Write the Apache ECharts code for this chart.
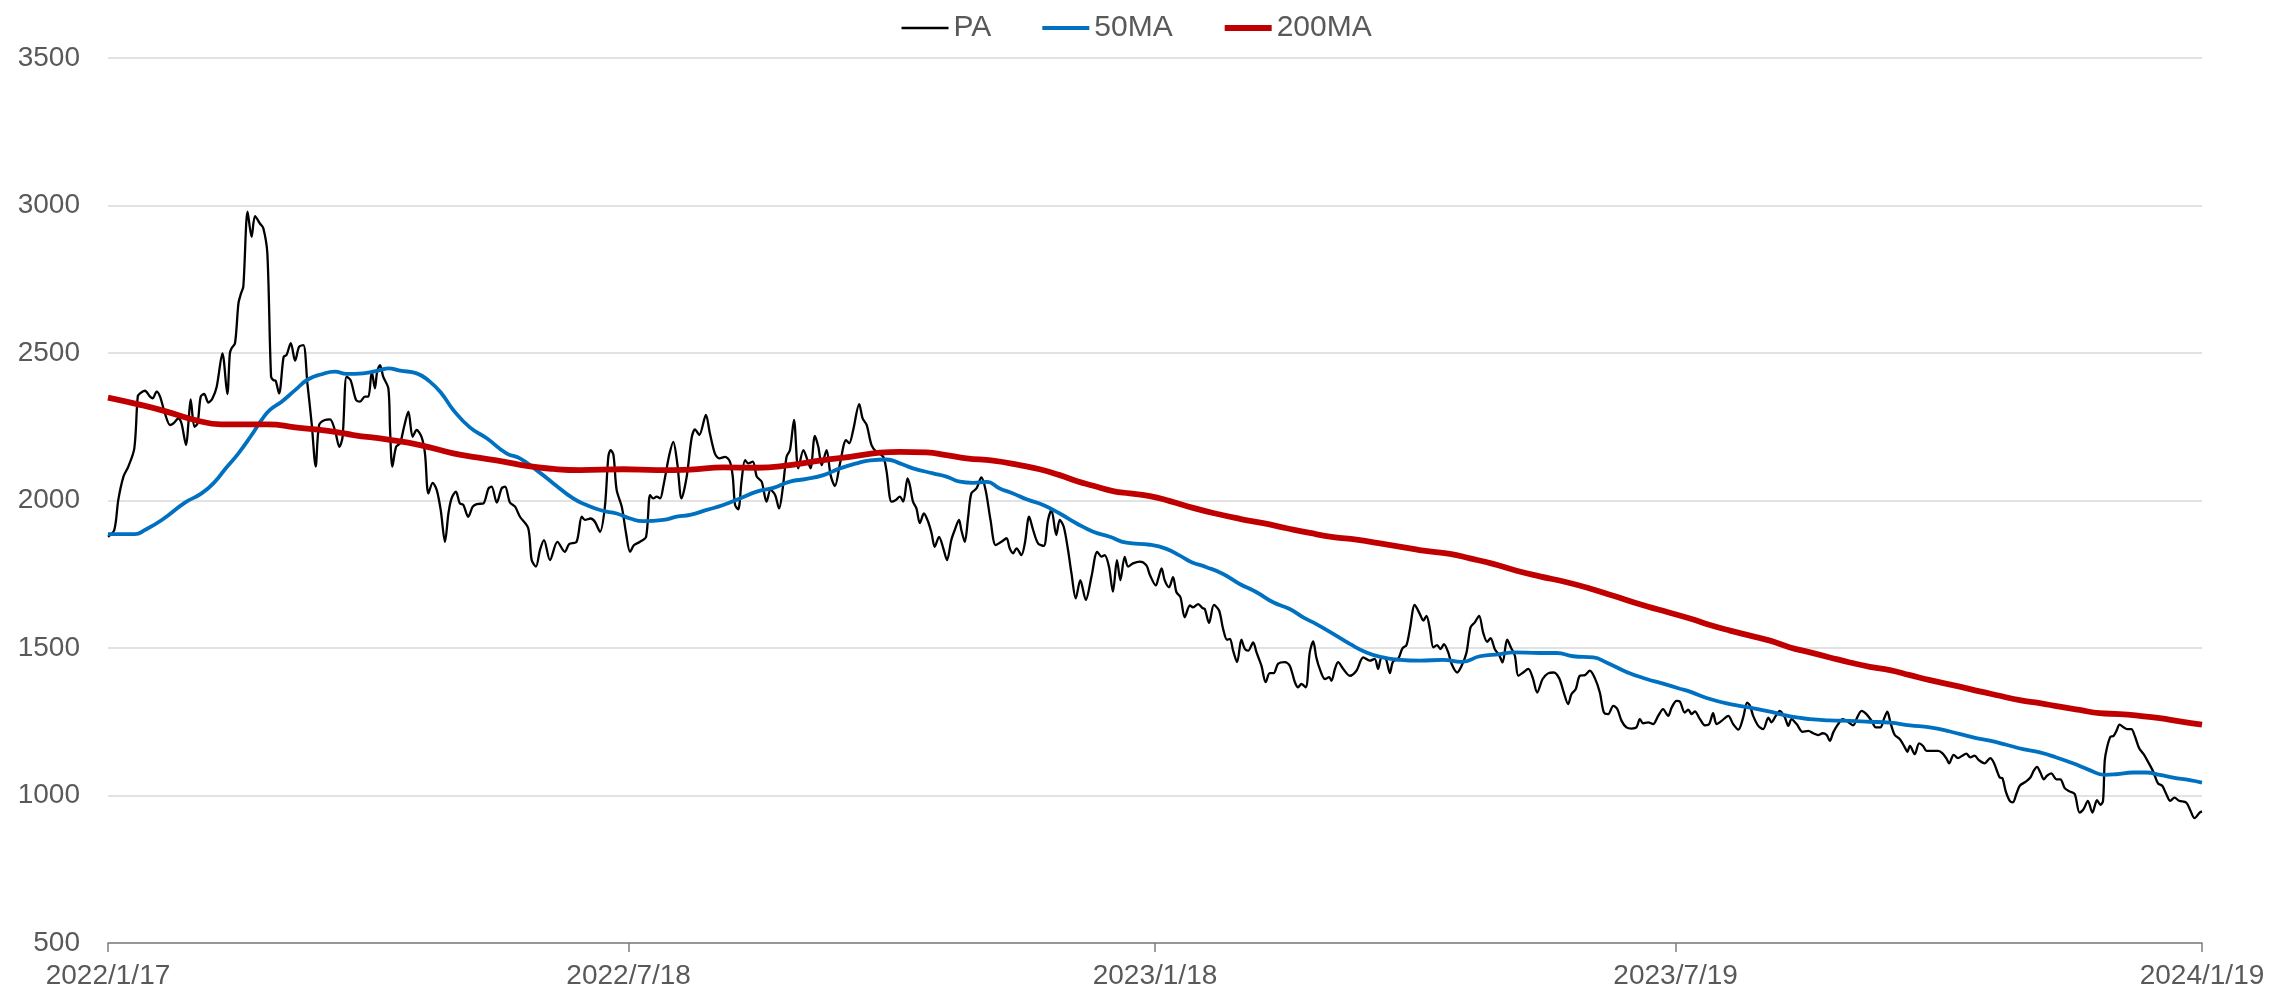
<!DOCTYPE html>
<html>
<head>
<meta charset="UTF-8">
<title>PA 50MA 200MA</title>
<script src="https://cdn.jsdelivr.net/npm/echarts@6.0.0/dist/echarts.min.js"></script>
<style>
    html, body { margin: 0; padding: 0; background: #fff; }
    #chart { width: 2272px; height: 995px; }
</style>
</head>
<body>
<div id="chart"></div>
<script>
    // x positions are days counted from 2022/1/17
    const tickLabels = ['2022/1/17', '2022/7/18', '2023/1/18', '2023/7/19', '2024/1/19'];

    const paDay = [
        0, 2.2, 3.6, 5.4, 7.1, 9.2, 10.4, 11.2, 12.9, 14.7,
        15.6, 17.0, 18.2, 19.9, 21.7, 22.8, 24.6, 25.7, 27.3, 28.1,
        28.9, 30.2, 31.3, 32.4, 33.6, 35.1, 36.5, 38.0, 40.0, 41.7,
        42.6, 43.2, 44.4, 45.6, 46.5, 47.3, 48.8, 50.2, 51.4, 53.1,
        54.3, 55.7, 57.0, 57.8, 58.6, 59.8, 61.4, 62.4, 63.9, 65.4,
        66.8, 68.3, 69.7, 71.2, 72.6, 73.8, 75.8, 77.6, 79.3, 80.9,
        82.0, 83.4, 84.8, 86.7, 88.1, 89.8, 91.0, 92.2, 93.3, 94.1,
        95.1, 96.2, 98.0, 98.6, 99.4, 100.7, 102.1, 103.5, 105.0, 106.5,
        107.9, 109.6, 110.8, 112.0, 113.5, 114.9, 116.3, 117.8, 119.0, 120.1,
        121.6, 123.0, 124.2, 125.9, 127.5, 128.9, 131.2, 133.0, 134.1, 135.9,
        137.6, 138.8, 140.5, 142.3, 144.0, 146.9, 148.1, 149.6, 151.0, 152.4,
        154.5, 157.1, 159.7, 161.2, 163.8, 165.6, 166.7, 168.7, 170.2, 172.0,
        173.7, 174.9, 175.7, 176.7, 177.8, 179.6, 181.1, 182.5, 183.9, 186.0,
        188.1, 189.5, 190.6, 191.8, 193.0, 194.1, 196.2, 197.6, 199.0, 200.5,
        202.3, 204.0, 205.2, 206.7, 209.0, 210.4, 212.2, 213.7, 215.7, 217.4,
        218.4, 219.2, 220.3, 221.5, 222.7, 223.8, 225.4, 226.8, 228.5, 230.2,
        231.6, 233.2, 234.6, 235.8, 237.2, 238.4, 239.8, 241.3, 243.1, 244.5,
        245.6, 247.1, 248.3, 249.5, 251.2, 252.6, 254.1, 255.9, 258.0, 259.1,
        260.5, 262.6, 263.8, 265.2, 266.9, 268.6, 271.0, 272.1, 273.9, 275.4,
        276.8, 278.0, 279.5, 280.3, 281.4, 282.6, 283.8, 285.2, 286.7, 287.9,
        289.0, 290.5, 292.0, 293.3, 294.8, 296.0, 297.5, 298.3, 299.5, 300.7,
        301.8, 303.6, 305.3, 306.8, 308.5, 310.3, 312.3, 314.1, 315.2, 316.4,
        317.6, 319.3, 320.5, 322.0, 323.4, 325.1, 327.1, 328.6, 329.8, 331.5,
        332.7, 334.1, 335.6, 336.8, 338.3, 339.9, 341.8, 343.8, 345.8, 347.3,
        348.4, 349.9, 351.3, 352.7, 353.9, 355.4, 356.6, 358.3, 360.7, 363.0,
        364.2, 366.3, 367.1, 368.3, 369.4, 370.9, 372.3, 373.5, 374.9, 376.4,
        378.2, 379.3, 381.1, 382.6, 383.4, 384.9, 386.6, 388.4, 389.8, 391.2,
        392.2, 393.3, 394.7, 396.2, 397.4, 398.6, 400.3, 401.5, 403.2, 404.7,
        406.1, 407.5, 409.0, 411.4, 413.1, 414.9, 416.0, 417.2, 418.7, 420.1,
        421.3, 422.4, 423.6, 425.4, 426.9, 427.7, 428.9, 430.0, 431.8, 434.1,
        436.4, 438.8, 441.1, 442.8, 444.0, 445.2, 446.7, 448.1, 449.2, 451.0,
        452.5, 453.9, 455.1, 456.8, 458.6, 459.8, 460.9, 462.1, 463.3, 464.6,
        465.8, 467.0, 468.5, 469.7, 471.6, 473.2, 474.9, 476.3, 477.8, 479.3,
        480.7, 482.1, 483.3, 484.8, 486.3, 487.5, 489.1, 490.4, 491.8, 493.0,
        494.7, 496.5, 498.0, 499.6, 501.5, 503.4, 505.4, 507.3, 508.9, 510.4,
        511.6, 513.1, 514.5, 516.3, 518.0, 519.8, 521.5, 522.9, 524.4, 526.2,
        527.6, 529.1, 530.8, 532.6, 534.3, 535.5, 536.6, 538.4, 540.1, 541.9,
        543.6, 545.4, 546.6, 548.3, 549.5, 551.2, 552.4, 553.6, 554.7, 556.5,
        558.2, 559.7, 561.1, 562.3, 564.1, 566.4, 568.1, 569.9, 571.6, 573.0,
        574.0, 575.1, 576.9, 578.6, 580.4, 581.5, 583.0, 584.4, 586.2, 587.4,
        588.5, 590.3, 592.4, 594.4, 596.1, 597.8, 599.4, 600.8, 601.9, 603.1,
        604.8, 606.4, 607.8, 610.1, 611.2, 613.0, 614.7, 616.5, 618.0, 619.6,
        620.8, 622.0, 623.1, 624.6, 626.4, 628.1, 629.0, 629.9, 631.6, 633.1,
        634.5, 635.7, 638.0, 639.8, 641.3, 642.7, 643.6, 645.2, 646.7, 648.2,
        649.6, 651.0, 652.5, 654.0, 656.0, 658.0, 659.2, 660.3, 661.3, 662.2,
        663.4, 664.8, 665.9, 667.1, 668.3, 670.4, 672.0, 673.2, 674.3, 675.5,
        676.7, 677.8, 679.3, 681.1, 682.5, 684.0, 685.7, 687.5, 689.2, 690.6,
        692.1, 693.7, 695.3, 696.5, 697.4, 698.0, 698.8, 700.0, 701.1, 702.1,
        703.2, 704.6, 705.8, 707.3, 708.5, 710.0, 711.6, 713.1, 714.9, 716.6,
        718.1, 719.5, 720.9, 722.4, 724.0, 726.5, 727.9, 729.4, 731.2, 732.0
    ];
    const paVal = [
        1877, 1900, 2002, 2081, 2115, 2177, 2352, 2363, 2372, 2352,
        2346, 2369, 2352, 2295, 2256, 2261, 2278, 2261, 2188, 2261,
        2343, 2250, 2261, 2352, 2361, 2332, 2346, 2386, 2499, 2361,
        2499, 2516, 2533, 2668, 2702, 2725, 2979, 2894, 2964, 2939,
        2923, 2838, 2420, 2408, 2406, 2363, 2487, 2493, 2533, 2474,
        2521, 2527, 2397, 2261, 2115, 2256, 2273, 2275, 2239, 2182,
        2216, 2420, 2408, 2341, 2335, 2352, 2352, 2437, 2380, 2437,
        2459, 2420, 2380, 2239, 2115, 2182, 2194, 2250, 2301, 2216,
        2239, 2216, 2160, 2024, 2060, 2036, 1968, 1860, 1956, 2007,
        2030, 1990, 1985, 1945, 1979, 1988, 1990, 2041, 2047, 1993,
        2041, 2047, 1993, 1979, 1945, 1906, 1798, 1776, 1832, 1866,
        1798, 1860, 1826, 1852, 1860, 1945, 1934, 1939, 1928, 1894,
        1979, 2148, 2171, 2154, 2036, 1979, 1889, 1826, 1849, 1860,
        1877, 2018, 2007, 2013, 2007, 2047, 2154, 2199, 2126, 2007,
        2081, 2211, 2241, 2222, 2290, 2228, 2158, 2143, 2148, 2132,
        2081, 1985, 1970, 2069, 2137, 2126, 2132, 2081, 2064, 1996,
        2036, 2019, 1973, 2036, 2148, 2171, 2273, 2109, 2171, 2137,
        2109, 2219, 2182, 2120, 2171, 2086, 2049, 2126, 2205, 2194,
        2239, 2327, 2278, 2256, 2188, 2165, 2148, 2103, 1996, 2002,
        2013, 1996, 2075, 2052, 1996, 1973, 1923, 1956, 1928, 1889,
        1843, 1877, 1838, 1798, 1866, 1900, 1934, 1900, 1860, 1945,
        2024, 2041, 2078, 2035, 1934, 1849, 1860, 1872, 1838, 1821,
        1838, 1815, 1855, 1945, 1900, 1855, 1846, 1934, 1968, 1883,
        1934, 1911, 1832, 1753, 1668, 1730, 1663, 1742, 1826, 1810,
        1815, 1776, 1691, 1798, 1730, 1809, 1776, 1787, 1793, 1780,
        1748, 1712, 1734, 1770, 1729, 1706, 1740, 1689, 1672, 1604,
        1644, 1638, 1649, 1635, 1632, 1585, 1646, 1627, 1565, 1528,
        1531, 1491, 1452, 1528, 1497, 1491, 1519, 1485, 1440, 1384,
        1415, 1415, 1446, 1452, 1440, 1384, 1367, 1378, 1367, 1485,
        1522, 1468, 1429, 1395, 1401, 1389, 1429, 1452, 1429, 1406,
        1423, 1468, 1457, 1463, 1429, 1468, 1463, 1415, 1454, 1463,
        1499, 1510, 1564, 1646, 1615, 1593, 1609, 1564, 1502, 1510,
        1496, 1513, 1485, 1446, 1417, 1440, 1485, 1570, 1587, 1609,
        1553, 1521, 1533, 1496, 1476, 1451, 1528, 1502, 1474, 1406,
        1417, 1429, 1400, 1349, 1395, 1414, 1417, 1397, 1349, 1310,
        1344, 1361, 1406, 1408, 1423, 1397, 1349, 1282, 1276, 1304,
        1293, 1253, 1231, 1227, 1231, 1259, 1245, 1248, 1242, 1270,
        1293, 1270, 1298, 1321, 1318, 1281, 1291, 1276, 1285, 1259,
        1238, 1242, 1279, 1242, 1253, 1270, 1242, 1223, 1264, 1315,
        1304, 1270, 1236, 1225, 1264, 1248, 1270, 1287, 1264, 1236,
        1259, 1242, 1216, 1219, 1211, 1205, 1211, 1205, 1185, 1214,
        1242, 1259, 1253, 1238, 1259, 1287, 1276, 1253, 1231, 1231,
        1259, 1284, 1247, 1205, 1191, 1163, 1148, 1168, 1140, 1177,
        1168, 1151, 1151, 1151, 1143, 1125, 1109, 1138, 1127, 1135,
        1142, 1129, 1135, 1120, 1109, 1127, 1112, 1084, 1061, 1059,
        1014, 982, 977, 1005, 1033, 1047, 1061, 1084, 1097, 1078,
        1055, 1067, 1075, 1055, 1055, 1025, 1014, 1005, 942, 954,
        982, 942, 984, 968, 982, 1118, 1163, 1199, 1202, 1219,
        1240, 1231, 1225, 1225, 1202, 1161, 1140, 1115, 1082, 1041,
        1033, 1005, 982, 993, 982, 976, 950, 923, 942, 946
    ];

    const ma50Day = [
        0, 9.4, 12.9, 18.8, 26.9, 32.7, 37.4, 40.9, 45.6, 50.2,
        53.7, 56.6, 60.7, 65.4, 70.0, 74.7, 79.3, 83.4, 89.2, 95.1,
        98.0, 102.1, 107.9, 112.5, 116.6, 120.7, 126.5, 132.4, 139.3, 144.0,
        149.8, 155.7, 162.6, 167.3, 172.6, 177.8, 182.5, 187.1, 194.1, 198.8,
        203.5, 209.3, 215.1, 220.9, 226.8, 232.6, 238.4, 244.2, 250.1, 255.9,
        261.7, 266.4, 272.1, 276.8, 281.4, 288.4, 293.1, 297.8, 302.4, 307.1,
        311.7, 316.4, 321.1, 326.9, 332.7, 338.5, 344.4, 350.2, 356.0, 364.2,
        370.0, 374.7, 378.8, 384.0, 389.8, 395.6, 401.5, 407.3, 413.1, 417.8,
        422.4, 428.3, 434.1, 439.9, 445.7, 450.4, 458.6, 466.7, 473.2, 479.6,
        486.6, 491.2, 500.5, 506.4, 512.2, 519.2, 523.8, 530.8, 537.8, 543.6,
        549.5, 553.0, 560.0, 567.0, 574.0, 581.0, 588.0, 595.0, 601.9, 608.9,
        615.9, 622.9, 629.9, 636.9, 643.9, 652.0, 657.8, 663.6, 669.4, 675.3,
        681.1, 686.9, 692.7, 698.0, 702.0, 707.9, 712.5, 717.2, 721.9, 727.7,
        732.0
    ];
    const ma50Val = [
        1886, 1886, 1900, 1934, 1993, 2024, 2064, 2106, 2160, 2222,
        2273, 2307, 2335, 2374, 2411, 2428, 2437, 2429, 2431, 2442,
        2448, 2440, 2431, 2403, 2363, 2307, 2248, 2211, 2160, 2143,
        2103, 2058, 2007, 1985, 1966, 1956, 1939, 1930, 1934, 1945,
        1951, 1968, 1985, 2007, 2030, 2043, 2064, 2073, 2086, 2109,
        2126, 2136, 2139, 2126, 2109, 2092, 2081, 2064, 2060, 2063,
        2041, 2024, 2004, 1985, 1956, 1923, 1894, 1877, 1857, 1850,
        1836, 1813, 1791, 1774, 1751, 1717, 1689, 1655, 1632, 1604,
        1581, 1548, 1514, 1485, 1468, 1461, 1457, 1460, 1453, 1472,
        1479, 1485, 1483, 1483, 1472, 1468, 1451, 1419, 1395, 1379,
        1362, 1352, 1327, 1310, 1298, 1284, 1268, 1259, 1255, 1253,
        1250, 1247, 1238, 1231, 1217, 1197, 1186, 1172, 1157, 1146,
        1129, 1109, 1086, 1070, 1072, 1078, 1078, 1070, 1061, 1052,
        1044
    ];

    const ma200Day = [
        0, 10.6, 19.9, 30.4, 39.7, 47.9, 56.0, 65.4, 72.4, 79.3,
        85.8, 97.4, 109.1, 120.7, 128.9, 138.2, 146.3, 155.7, 165.0, 180.2,
        191.8, 203.5, 215.1, 226.8, 238.4, 250.1, 259.4, 269.8, 276.8, 286.1,
        293.1, 300.1, 309.4, 318.7, 325.7, 332.7, 338.5, 344.4, 351.3, 357.2,
        364.2, 371.2, 379.3, 387.5, 395.6, 403.8, 412.0, 420.1, 428.3, 436.4,
        445.7, 455.1, 459.8, 469.1, 476.1, 484.2, 492.4, 500.5, 509.9, 518.0,
        526.2, 535.5, 543.6, 553.0, 560.0, 567.0, 574.0, 581.0, 588.0, 595.0,
        601.9, 608.9, 615.9, 622.9, 629.9, 636.9, 647.3, 654.3, 661.3, 668.3,
        675.3, 682.2, 689.2, 696.2, 703.2, 710.2, 717.2, 724.2, 732.0
    ];
    const ma200Val = [
        2349, 2326, 2303, 2273, 2258, 2258, 2258, 2248, 2241, 2233,
        2222, 2207, 2188, 2160, 2146, 2132, 2117, 2107, 2103, 2106,
        2103, 2105, 2112, 2111, 2120, 2137, 2148, 2162, 2165, 2163,
        2154, 2143, 2135, 2120, 2106, 2086, 2066, 2050, 2032, 2024,
        2015, 1998, 1975, 1955, 1938, 1923, 1906, 1890, 1876, 1867,
        1853, 1838, 1830, 1819, 1804, 1785, 1762, 1743, 1723, 1702,
        1677, 1648, 1626, 1600, 1578, 1559, 1542, 1525, 1502, 1485,
        1468, 1451, 1436, 1425, 1408, 1391, 1369, 1353, 1338, 1323,
        1313, 1301, 1290, 1279, 1276, 1270, 1262, 1251, 1240
    ];

    const DAY = 86400000;
    const START = Date.UTC(2022, 0, 17);
    const FONT = "'Liberation Sans', Arial, sans-serif";

    function pairUp(days, vals) {
        const n = Math.min(days.length, vals.length);
        const out = [];
        for (let i = 0; i < n; i++) {
            out.push([days[i], vals[i]]);
        }
        return out;
    }

    // label dates -> day offsets on the x axis
    const tickDays = tickLabels.map(s => {
        const p = s.split('/').map(Number);
        return Math.round((Date.UTC(p[0], p[1] - 1, p[2]) - START) / DAY);
    });

    const chart = echarts.init(document.getElementById('chart'));

    const option = {
        animation: false,
        textStyle: { fontFamily: FONT },
        legend: {
            top: 8,
            left: 'center',
            itemWidth: 47,
            itemHeight: 14,
            itemGap: 49,
            itemStyle: { opacity: 0 },
            textStyle: { color: '#595959', fontSize: 30, fontFamily: FONT },
            data: [
                { name: 'PA', lineStyle: { width: 2.5 } },
                { name: '50MA', lineStyle: { width: 4 } },
                { name: '200MA', lineStyle: { width: 6 } }
            ]
        },
        grid: {
            left: 108,
            right: 70,
            top: 58,
            bottom: 52
        },
        xAxis: {
            type: 'value',
            min: tickDays[0],
            max: tickDays[tickDays.length - 1],
            axisLine: { lineStyle: { color: '#7f7f7f', width: 1.5 } },
            axisTick: {
                show: true,
                customValues: tickDays,
                length: 9,
                lineStyle: { color: '#7f7f7f', width: 1.5 }
            },
            axisLabel: {
                customValues: tickDays,
                color: '#595959',
                fontSize: 28,
                margin: 19,
                fontFamily: FONT,
                formatter: function (value) {
                    const i = tickDays.indexOf(value);
                    return i >= 0 ? tickLabels[i] : '';
                }
            },
            splitLine: { show: false }
        },
        yAxis: {
            type: 'value',
            min: 500,
            max: 3500,
            interval: 500,
            axisLine: { show: false },
            axisTick: { show: false },
            axisLabel: {
                color: '#595959',
                fontSize: 28,
                margin: 28,
                fontFamily: FONT,
                formatter: v => String(v)
            },
            splitLine: { lineStyle: { color: '#d9d9d9', width: 1.5 } }
        },
        series: [
            {
                name: 'PA',
                type: 'line',
                data: pairUp(paDay, paVal),
                symbol: 'none',
                smooth: 0.3,
                lineStyle: { color: '#000000', width: 2.3 },
                itemStyle: { color: '#000000' }
            },
            {
                name: '50MA',
                type: 'line',
                data: pairUp(ma50Day, ma50Val),
                symbol: 'none',
                smooth: true,
                lineStyle: { color: '#0070c0', width: 3.8 },
                itemStyle: { color: '#0070c0' }
            },
            {
                name: '200MA',
                type: 'line',
                data: pairUp(ma200Day, ma200Val),
                symbol: 'none',
                smooth: true,
                lineStyle: { color: '#c00000', width: 5.8 },
                itemStyle: { color: '#c00000' }
            }
        ]
    };

    chart.setOption(option);
</script>
</body>
</html>
